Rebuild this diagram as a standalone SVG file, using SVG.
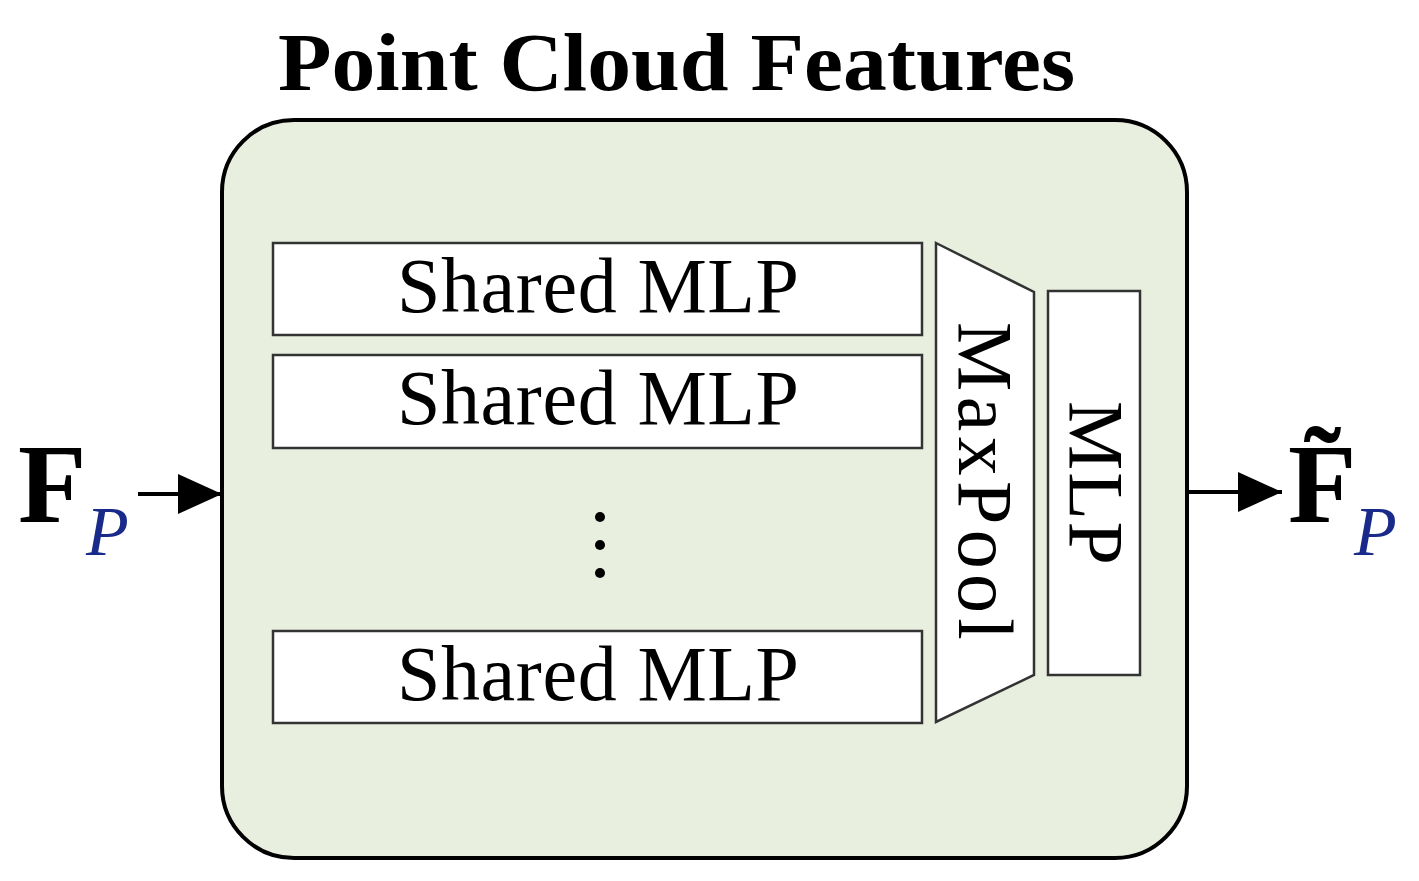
<svg xmlns="http://www.w3.org/2000/svg" width="1419" height="881" viewBox="0 0 1419 881">
<style>
.t{font-family:"Liberation Serif",serif;fill:#000}
.box{fill:#fff;stroke:#333;stroke-width:2.5}
</style>
<defs><marker id="ah" markerWidth="44" markerHeight="40" refX="44" refY="20" orient="auto" markerUnits="userSpaceOnUse" viewBox="0 0 44 40"><path d="M0,0L44,20L0,40z" fill="#000"/></marker></defs>
<rect width="1419" height="881" fill="#fff"/>
<text class="t" x="278" y="90" font-size="82" font-weight="bold" textLength="797" lengthAdjust="spacingAndGlyphs">Point Cloud Features</text>
<g id="container"><rect x="222" y="120" width="965" height="738" rx="72" fill="#e8efdf" stroke="#000" stroke-width="4"/></g>
<g id="smlp1"><rect class="box" x="273" y="243" width="649" height="92"/><text class="t" x="598" y="312" font-size="78" text-anchor="middle" textLength="402">Shared MLP</text></g>
<g id="smlp2"><rect class="box" x="273" y="355" width="649" height="93"/><text class="t" x="598" y="424" font-size="78" text-anchor="middle" textLength="402">Shared MLP</text></g>
<g id="dots"><circle cx="600" cy="517" r="5"/><circle cx="600" cy="545" r="5"/><circle cx="600" cy="573" r="5"/></g>
<g id="smlp3"><rect class="box" x="273" y="631" width="649" height="92"/><text class="t" x="598" y="700" font-size="78" text-anchor="middle" textLength="402">Shared MLP</text></g>
<g id="maxpool"><polygon class="box" points="936,243 1034,292 1034,675 936,722"/><text class="t" font-size="78" text-anchor="middle" textLength="318" transform="translate(959,481) rotate(90)">MaxPool</text></g>
<g id="mlp"><rect class="box" x="1048" y="291" width="92" height="384"/><text class="t" font-size="78" text-anchor="middle" textLength="164" transform="translate(1070,483) rotate(90)">MLP</text></g>
<g id="connectors">
<line x1="138" y1="494" x2="222" y2="494" stroke="#000" stroke-width="4" marker-end="url(#ah)"/>
<line x1="1187" y1="492" x2="1282" y2="492" stroke="#000" stroke-width="4" marker-end="url(#ah)"/>
</g>
<g id="fp_in"><text class="t" x="18" y="522" font-size="112" font-weight="bold">F</text><text x="86" y="555" font-size="70" font-style="italic" fill="#1a2a8a" font-family="Liberation Serif,serif">P</text></g>
<g id="fp_out"><text class="t" x="1288" y="522" font-size="112" font-weight="bold">F̃</text><text x="1354" y="555" font-size="70" font-style="italic" fill="#1a2a8a" font-family="Liberation Serif,serif">P</text></g>
</svg>
